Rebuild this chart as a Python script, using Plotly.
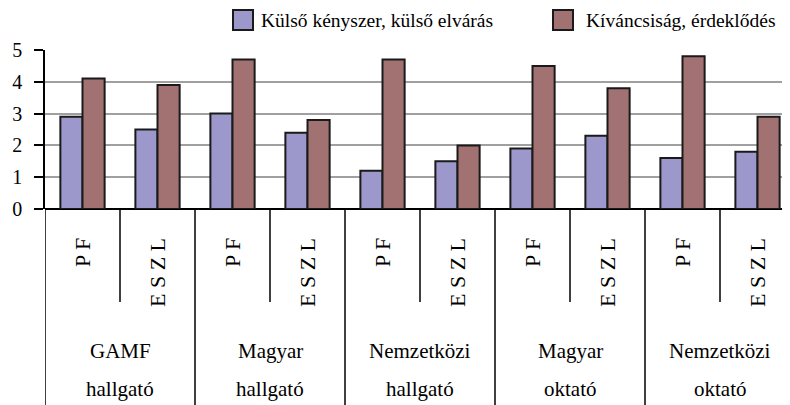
import plotly.graph_objects as go

# adatok
alcsoport = ["P F", "E S Z L"] * 5
csoport_1 = ["GAMF", "Magyar", "Nemzetközi", "Magyar", "Nemzetközi"]
csoport_2 = ["hallgató", "hallgató", "hallgató", "oktató", "oktató"]
kulso = [2.9, 2.5, 3.0, 2.4, 1.2, 1.5, 1.9, 2.3, 1.6, 1.8]
kivancsi = [4.1, 3.9, 4.7, 2.8, 4.7, 2.0, 4.5, 3.8, 4.8, 2.9]
nevek = ["Külső kényszer, külső elvárás", "Kíváncsiság, érdeklődés"]
szinek = ["#9C98CC", "#A27272"]

FONT = "Liberation Serif"
OFF = 8               # a böngésző body margója
W, H = 790 - OFF, 405 - OFF
L, T, B = 45 - OFF, 50 - OFF, 196
PW = W - L            # plot szélesség px
PH = H - T - B        # plot magasság px
cat_px = 75

# képernyő px -> paper koordináta
def px_x(px):
    return (px - OFF - L) / PW

def px_y(py):
    return (H - B - (py - OFF)) / PH

x = list(range(len(alcsoport)))

fig = go.Figure()
for vals, nev, szin in zip([kulso, kivancsi], nevek, szinek):
    fig.add_trace(go.Bar(x=x, y=vals, name=nev, marker_color=szin,
                         marker_line=dict(color="#1a1a1a", width=2),
                         showlegend=False))

shapes = []
annotations = []

# függőleges elválasztók a kategóriák alatt
for i in range(len(alcsoport) + 1):
    hosszu = i % 2 == 0
    shapes.append(dict(type="line", xref="x", yref="paper",
                       x0=i - 0.5, x1=i - 0.5, y0=0,
                       y1=px_y(410) if hosszu else px_y(302),
                       line=dict(color="black", width=1.5)))

# forgatott alcímkék
for i, lab in enumerate(alcsoport):
    annotations.append(dict(x=i, y=px_y(236), xref="x", yref="paper",
                            text=lab, textangle=-90, showarrow=False,
                            xanchor="center", yanchor="top",
                            font=dict(family=FONT, size=22, color="black")))

# csoportcímkék
for g, (a, b) in enumerate(zip(csoport_1, csoport_2)):
    for txt, py in [(a, 351), (b, 389)]:
        annotations.append(dict(x=2 * g + 0.5, y=px_y(py), xref="x", yref="paper",
                                text=txt, showarrow=False,
                                xanchor="center", yanchor="middle",
                                font=dict(family=FONT, size=21, color="black")))

# jelmagyarázat
for (bx, tx), nev, szin in zip([(233, 259), (553, 584)], nevek, szinek):
    shapes.append(dict(type="rect", xref="paper", yref="paper",
                       x0=px_x(bx), x1=px_x(bx + 20), y0=px_y(30), y1=px_y(10),
                       fillcolor=szin, line=dict(color="#1a1a1a", width=2)))
    annotations.append(dict(x=px_x(tx), y=px_y(20.5), xref="paper", yref="paper",
                            text=nev, showarrow=False, xanchor="left",
                            yanchor="middle",
                            font=dict(family=FONT, size=19.5, color="black")))

fig.update_layout(
    width=W, height=H,
    margin=dict(l=L, r=0, t=T, b=B, pad=0, autoexpand=False),
    paper_bgcolor="white", plot_bgcolor="white",
    barmode="group", bargap=0.41, bargroupgap=0,
    shapes=shapes, annotations=annotations,
    font=dict(family=FONT, size=17, color="black"),
    xaxis=dict(range=[-0.5, -0.5 + PW / cat_px], showticklabels=False,
               showgrid=False, zeroline=False, showline=False, ticks="",
               automargin=False),
    yaxis=dict(range=[0, 5], dtick=1, showgrid=True, gridcolor="#A0A0A0",
               gridwidth=1.5, zeroline=True, zerolinecolor="black",
               zerolinewidth=1.5, showline=True, linecolor="black",
               linewidth=1.5, ticks="outside", ticklen=9, tickcolor="black",
               tickwidth=1.5, ticklabelstandoff=8, automargin=False,
               tickfont=dict(family=FONT, size=20, color="black")),
)

fig.write_html("out.html")
